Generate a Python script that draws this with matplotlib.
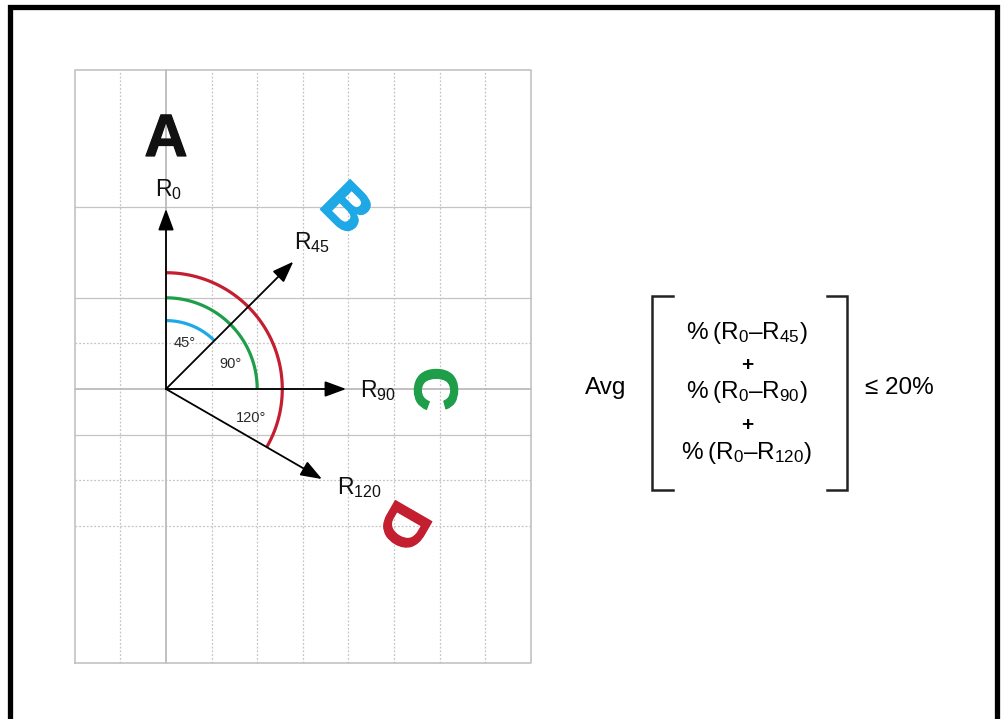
import matplotlib
matplotlib.use("Agg")
import matplotlib.pyplot as plt
import matplotlib.patheffects as pe
import numpy as np

plt.rcParams["font.family"] = ["Liberation Sans", "DejaVu Sans"]
plt.rcParams["mathtext.fontset"] = "custom"
plt.rcParams["mathtext.rm"] = "Liberation Sans"
plt.rcParams["mathtext.it"] = "Liberation Sans:italic"
plt.rcParams["mathtext.bf"] = "Liberation Sans:bold"

# directions, measured clockwise from straight up
ANGLES = [0, 45, 90, 120]
ARROW_LABELS = ["R$_0$", "R$_{45}$", "R$_{90}$", "R$_{120}$"]
LETTERS = ["A", "B", "C", "D"]
LETTER_COLORS = ["#111111", "#1ea9e6", "#1f9e4a", "#c41f30"]

ARC_ANGLES = [45, 90, 120]
ARC_LABELS = ["45°", "90°", "120°"]
ARC_COLORS = ["#1ea9e6", "#1f9e4a", "#c41f30"]

GRID_COLS = [-2, -1, 1, 2, 3, 4, 5, 6, 7, 8]
GRID_ROWS_SOLID = [4, 2, -1]
GRID_ROWS_DOTTED = [1, -2, -3]

FORMULA_TERMS = ["R$_{45}$", "R$_{90}$", "R$_{120}$"]
LIMIT_TEXT = "≤ 20%"

W, H = 1005, 719
U = 45.6          # one grid cell in pixels
OX, OY = 166, 389  # origin of the vectors in pixels


def px(x, y):
    """picture pixel -> data (grid cell) units"""
    return (x - OX) / U, (OY - y) / U


def direction(angle, r):
    a = np.radians(angle)
    return r * np.sin(a), r * np.cos(a)


fig = plt.figure(figsize=(W / 100, H / 100), dpi=100)
ax = fig.add_axes([0, 0, 1, 1])
ax.set_xlim(px(0, 0)[0], px(W, 0)[0])
ax.set_ylim(px(0, H)[1], px(0, 0)[1])
ax.set_aspect("equal")
ax.axis("off")

# outer frame (open at the bottom)
fx0, fy0 = px(10, 7)
fx1, fy1 = px(997, H + 5)
ax.plot([fx0, fx0, fx1, fx1], [fy1, fy0, fy0, fy1], color="black", lw=3.8,
        solid_joinstyle="miter", zorder=1)

# grid box
gx0, gx1, gy0, gy1 = -2, 8, -6, 7
grid_c = "#c4c4c4"
for c in GRID_COLS[1:-1]:
    ax.plot([c, c], [gy0, gy1], color=grid_c, lw=0.9, ls=(0, (1.5, 1.5)), zorder=1)
for r in GRID_ROWS_SOLID:
    ax.plot([gx0, gx1], [r, r], color=grid_c, lw=0.9, zorder=1)
for r in GRID_ROWS_DOTTED:
    ax.plot([gx0, gx1], [r, r], color=grid_c, lw=0.9, ls=(0, (1.5, 1.5)), zorder=1)
ax.plot([0, 0], [gy0, gy1], color="#b5b5b5", lw=1.2, zorder=1)
ax.plot([gx0, gx1], [0, 0], color="#b5b5b5", lw=1.2, zorder=1)
ax.plot([gx0, gx1, gx1, gx0, gx0], [gy0, gy0, gy1, gy1, gy0], color="#c2c2c2", lw=1.2, zorder=1)

# arcs
arc_radii = [1.5, 2.0, 2.55]
for ang, rad, col in zip(ARC_ANGLES, arc_radii, ARC_COLORS):
    t = np.linspace(0, ang, 100)
    x, y = direction(t, rad)
    ax.plot(x, y, color=col, lw=2.3, solid_capstyle="butt", zorder=3)

arc_label_pos = [px(185, 343), px(230, 364), px(251, 418)]
for lab, (lx, ly) in zip(ARC_LABELS, arc_label_pos):
    ax.text(lx, ly, lab, fontsize=10.5, color="#2a2a2a", ha="center", va="center", zorder=4)

# vectors
for ang in ANGLES:
    tip = direction(ang, 3.95)
    ax.annotate("", xy=tip, xytext=(0, 0),
                arrowprops=dict(arrowstyle="-|>,head_length=0.65,head_width=0.24",
                                mutation_scale=20, color="black", lw=1.3,
                                shrinkA=0, shrinkB=0),
                zorder=5)

label_pos = [px(168, 190), px(312, 243), px(378, 391), px(359, 488)]
for lab, (lx, ly) in zip(ARROW_LABELS, label_pos):
    ax.text(lx, ly, lab, fontsize=16.5, color="#111111", ha="center", va="center", zorder=6)

letter_dist = [5.45, 5.52, 5.8, 5.92]
letter_size = [43, 44, 44, 44]
for ang, let, col, d, fs in zip(ANGLES, LETTERS, LETTER_COLORS, letter_dist, letter_size):
    lx, ly = direction(ang, d)
    ax.text(lx, ly, let, fontsize=fs, fontweight="bold", color=col, rotation=-ang,
            rotation_mode="anchor", ha="center", va="center", zorder=6,
            path_effects=[pe.withStroke(linewidth=0.9, foreground=col)])

# formula
fs = 17.5
ax.text(*px(606, 388), "Avg", fontsize=fs, ha="center", va="center")
ax.text(*px(899, 388), LIMIT_TEXT, fontsize=fs, ha="center", va="center")
line_y = [333, 392, 453]
plus_y = [366, 426]
for term, yy in zip(FORMULA_TERMS, line_y):
    ax.text(*px(747, yy), "%\u2009(R$_0$\u2013" + term + ")", fontsize=fs,
            ha="center", va="center")
for yy in plus_y:
    ax.text(*px(747, yy), "+", fontsize=15, fontweight="bold", ha="center", va="center")

bl = [px(673, 296), px(652, 296), px(652, 490), px(673, 490)]
br = [px(827, 296), px(847, 296), px(847, 490), px(827, 490)]
for pts in (bl, br):
    xs, ys = zip(*pts)
    ax.plot(xs, ys, color="#222222", lw=1.8, solid_joinstyle="miter")

fig.savefig("out.png", dpi=100)
